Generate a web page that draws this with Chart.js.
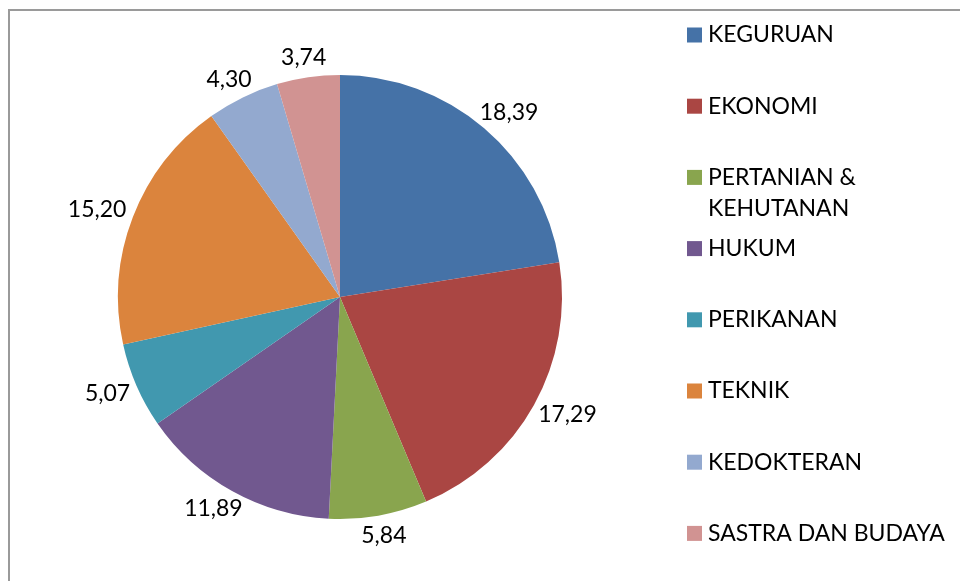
<!DOCTYPE html>
<html>
<head>
<meta charset="utf-8">
<script src="https://cdn.jsdelivr.net/npm/chart.js@4.4.0/dist/chart.umd.min.js"></script>
<style>
  html, body { margin: 0; padding: 0; background: #fff; }
  #wrap { width: 960px; height: 581px; position: relative; }
</style>
</head>
<body>
<div id="wrap"><canvas id="pie" width="960" height="581"></canvas></div>
<script>
var labels = ["KEGURUAN", "EKONOMI", "PERTANIAN & KEHUTANAN", "HUKUM", "PERIKANAN", "TEKNIK", "KEDOKTERAN", "SASTRA DAN BUDAYA"];
var values = [18.39, 17.29, 5.84, 11.89, 5.07, 15.20, 4.30, 3.74];
var colors = ["#4572A7", "#AA4643", "#89A54E", "#71588F", "#4198AF", "#DB843D", "#93A9CF", "#D19392"];

var FONT = '23px Lato, "Open Sans", sans-serif';

function fmt(v) {
    return v.toFixed(2).replace('.', ',');
}

// grey frame round the chart
var frame = {
    id: 'frame',
    beforeDraw: function (chart) {
        var ctx = chart.ctx;
        ctx.save();
        ctx.strokeStyle = '#9a9a9a';
        ctx.lineWidth = 2;
        ctx.beginPath();
        ctx.moveTo(9, 590);
        ctx.lineTo(9, 10);
        ctx.lineTo(970, 10);
        ctx.stroke();
        ctx.restore();
    }
};

// value labels just outside the slices
var valueLabels = {
    id: 'valueLabels',
    afterDatasetsDraw: function (chart) {
        var ctx = chart.ctx;
        var meta = chart.getDatasetMeta(0);
        ctx.save();
        ctx.font = FONT;
        ctx.fillStyle = '#000';
        ctx.textAlign = 'center';
        ctx.textBaseline = 'middle';
        meta.data.forEach(function (arc, i) {
            var a = (arc.startAngle + arc.endAngle) / 2;
            var r = arc.outerRadius + 9;
            var txt = fmt(values[i]);
            var w = ctx.measureText(txt).width;
            var h = 22;
            var px = arc.x + Math.cos(a) * r + Math.cos(a) * w / 2;
            var py = arc.y + Math.sin(a) * r + Math.sin(a) * h / 2;
            ctx.fillText(txt, px, py);
        });
        ctx.restore();
    }
};

// legend on the right, with word wrap
var sideLegend = {
    id: 'sideLegend',
    afterDraw: function (chart) {
        var ctx = chart.ctx;
        var x0 = 687, y0 = 35, step = 71.2, maxW = 245;
        ctx.save();
        ctx.font = FONT;
        ctx.textAlign = 'left';
        ctx.textBaseline = 'middle';
        chart.data.labels.forEach(function (lab, i) {
            var y = y0 + i * step;
            ctx.fillStyle = colors[i];
            ctx.fillRect(x0, y - 7.5, 15, 15);
            var words = lab.split(' ');
            var lines = [], cur = '';
            words.forEach(function (wd) {
                var t = cur ? cur + ' ' + wd : wd;
                if (ctx.measureText(t).width > maxW && cur) {
                    lines.push(cur);
                    cur = wd;
                } else {
                    cur = t;
                }
            });
            lines.push(cur);
            ctx.fillStyle = '#000';
            lines.forEach(function (ln, j) {
                ctx.fillText(ln, x0 + 21, y + j * 31);
            });
        });
        ctx.restore();
    }
};

var ctx = document.getElementById('pie').getContext('2d');
var pieChart = new Chart(ctx, {
    type: 'pie',
    data: {
        labels: labels,
        datasets: [{
            data: values,
            backgroundColor: colors,
            borderWidth: 0
        }]
    },
    options: {
        responsive: false,
        animation: false,
        layout: {
            padding: { top: 75, bottom: 62, left: 118, right: 398 }
        },
        plugins: {
            legend: { display: false },
            tooltip: { enabled: false }
        }
    },
    plugins: [frame, valueLabels, sideLegend]
});
</script>
</body>
</html>
